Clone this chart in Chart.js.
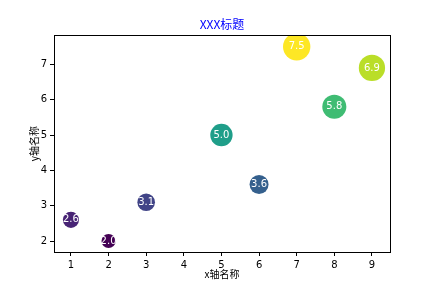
<!DOCTYPE html>
<html>
<head>
<meta charset="utf-8">
<script src="https://cdn.jsdelivr.net/npm/chart.js@4"></script>
<style>
  html, body { margin: 0; padding: 0; background: #fff; }
  #wrap { width: 432px; height: 288px; }
</style>
</head>
<body>
<div id="wrap"><canvas id="c" width="432" height="288"></canvas></div>
<script>
/* data */
const xs = [1, 2, 3, 5, 6, 7, 8, 9];
const ys = [2.6, 2.0, 3.1, 5.0, 3.6, 7.5, 5.8, 6.9];
const colors = ["#482475", "#440154", "#414487", "#1f9e89", "#35608d", "#fde725", "#3fbc73", "#bade28"];
const xTicks = [1, 2, 3, 4, 5, 6, 7, 8, 9];
const yTicks = [2, 3, 4, 5, 6, 7];

const CJK = "'Noto Sans CJK SC', 'DejaVu Sans', sans-serif";
const NUM = "'DejaVu Sans', sans-serif";

/* box around plot + value labels on bubbles */
const decor = {
  id: "decor",
  afterDatasetsDraw(chart) {
    const ctx = chart.ctx;
    const a = chart.chartArea;
    ctx.save();
    ctx.strokeStyle = "#000";
    ctx.lineWidth = 1;
    ctx.strokeRect(Math.round(a.left) + 0.5, Math.round(a.top) + 0.5, Math.round(a.right - a.left), Math.round(a.bottom - a.top));
    ctx.fillStyle = "#fff";
    ctx.font = "10px " + NUM;
    ctx.textAlign = "center";
    ctx.textBaseline = "middle";
    chart.getDatasetMeta(0).data.forEach((el, i) => {
      ctx.fillText(ys[i].toFixed(1), el.x, el.y);
    });
    ctx.restore();
  }
};

new Chart(document.getElementById("c"), {
  type: "bubble",
  data: {
    datasets: [{
      data: xs.map((x, i) => ({ x, y: ys[i] })),
      backgroundColor: colors,
      borderWidth: 0,
      radius: (c) => Math.sqrt(ys[c.dataIndex] * 100) / 2
    }]
  },
  options: {
    responsive: false,
    animation: false,
    layout: { padding: { left: 0, right: 42, top: 0, bottom: 0 } },
    plugins: {
      legend: { display: false },
      tooltip: { enabled: false },
      title: {
        display: true,
        fullSize: false,
        text: "XXX标题",
        color: "#0000ff",
        font: { family: CJK, size: 12, weight: "normal" },
        padding: { top: 17, bottom: 4 }
      }
    },
    scales: {
      x: {
        type: "linear",
        min: 0.55, max: 9.48,
        afterBuildTicks: (s) => { s.ticks = xTicks.map(v => ({ value: v })); },
        afterFit: (s) => { s.height = 36; },
        grid: { drawOnChartArea: false, tickLength: 4, color: "#000" },
        border: { color: "#000" },
        ticks: { color: "#000", padding: 3, font: { family: NUM, size: 10 } },
        title: { display: true, text: "x轴名称", color: "#000", font: { family: CJK, size: 10 }, padding: { top: 0, bottom: 8 } }
      },
      y: {
        type: "linear",
        min: 1.69, max: 7.82,
        afterBuildTicks: (s) => { s.ticks = yTicks.map(v => ({ value: v })); },
        afterFit: (s) => { s.width = 54; },
        grid: { drawOnChartArea: false, tickLength: 4, color: "#000" },
        border: { color: "#000" },
        ticks: { color: "#000", padding: 3, font: { family: NUM, size: 10 } },
        title: { display: true, text: "y轴名称", color: "#000", font: { family: CJK, size: 10 }, padding: { top: 28, bottom: 0 } }
      }
    }
  },
  plugins: [decor]
});
</script>
</body>
</html>
